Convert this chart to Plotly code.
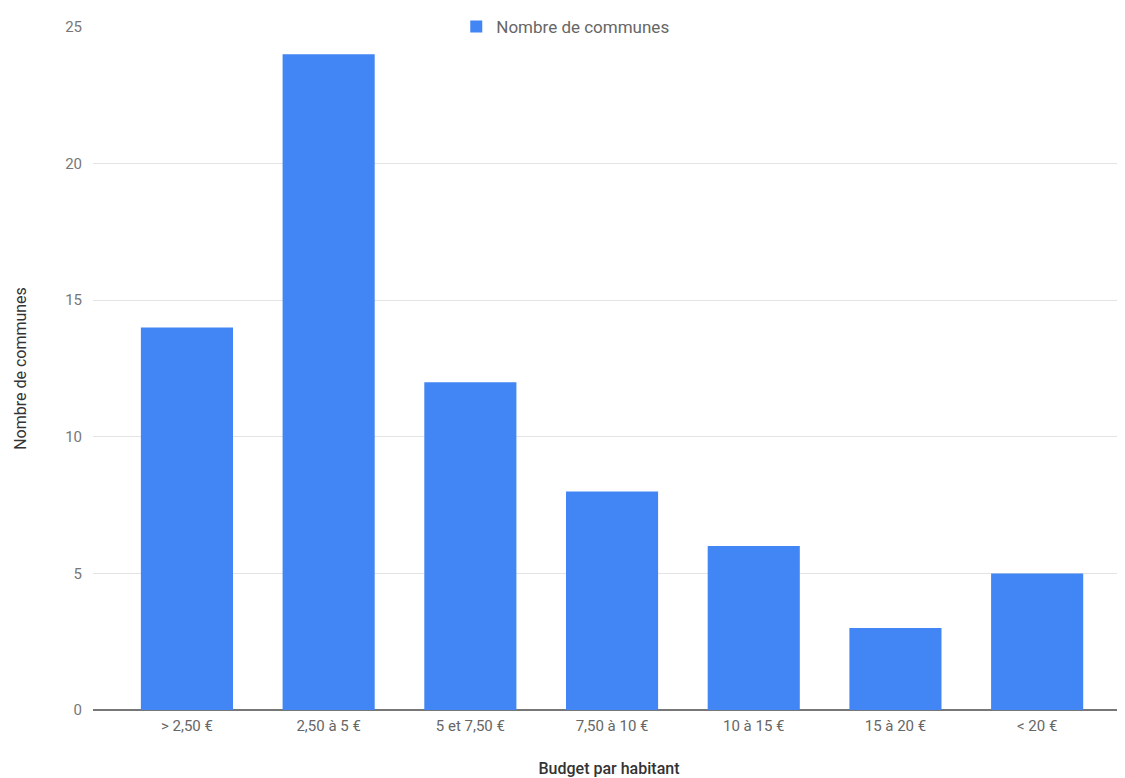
import plotly.graph_objects as go

categories = ["> 2,50 €", "2,50 à 5 €", "5 et 7,50 €", "7,50 à 10 €", "10 à 15 €", "15 à 20 €", "< 20 €"]
communes = [14, 24, 12, 8, 6, 3, 5]
y_ticks = [0, 5, 10, 15, 20, 25]

fig = go.Figure()
fig.add_trace(go.Bar(
    x=categories, y=communes, name="Nombre de communes",
    marker=dict(color="#4285F4", line=dict(width=0)),
    width=0.65, showlegend=True,
))

fig.update_layout(
    width=1125, height=778,
    margin=dict(l=85, r=8, t=19, b=76, autoexpand=False),
    paper_bgcolor="white", plot_bgcolor="white",
    font=dict(family="Roboto, Arial, sans-serif", size=15, color="#666666"),
    showlegend=True,
    legend=dict(
        orientation="h", x=0.352, xanchor="left", y=1.0, yanchor="middle",
        bgcolor="rgba(255,255,255,0)", font=dict(size=17, color="#666666"),
    ),
    xaxis=dict(
        range=[-0.663, 6.62], showgrid=False, ticks="", showline=False,
        automargin=False, ticklabelstandoff=5,
        title=dict(text="Budget par habitant",
                   font=dict(size=16, color="#333333", weight=500), standoff=28),
        tickfont=dict(size=15, color="#666666"),
    ),
    yaxis=dict(
        range=[0, 25], tickvals=y_ticks, showgrid=True, gridcolor="#e3e3e3",
        zeroline=True, zerolinecolor="#777777", zerolinewidth=1.5,
        ticks="", ticklabelstandoff=10, automargin=False,
        title=dict(text="Nombre de communes", font=dict(size=16, color="#333333"), standoff=34),
        tickfont=dict(size=15, color="#777777"),
    ),
    bargap=0.35,
)

fig.write_html("out.html")
